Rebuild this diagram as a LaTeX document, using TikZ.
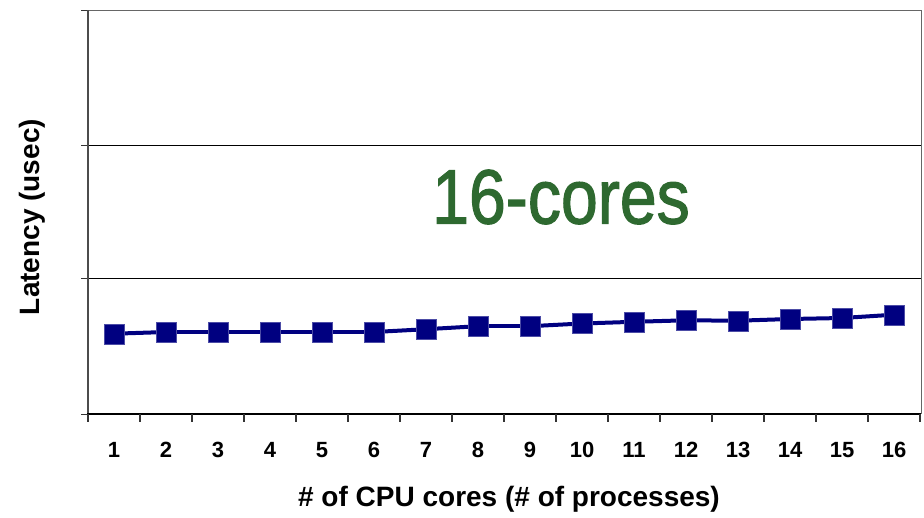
\documentclass[tikz,border=0pt]{standalone}
\usepackage{fontspec}
\setmainfont{Liberation Sans}
\newfontfamily\coresfont[FakeBold=1.6]{Liberation Sans}
\usepackage{xcolor}
\usetikzlibrary{positioning}

\definecolor{seriesblue}{HTML}{000080}
\definecolor{labelgreen}{HTML}{2E6930}

\begin{document}
\begin{tikzpicture}[
    x=1pt, y=-1pt,
    marker/.style={rectangle, fill=seriesblue, draw=seriesblue!70, line width=0.4pt, minimum size=20pt, inner sep=0pt},
    series/.style={seriesblue, line width=4pt},
    ticklabel/.style={font=\fontsize{22}{22}\selectfont\bfseries, anchor=center},
    axistitle/.style={font=\fontsize{28}{28}\selectfont\bfseries},
    grid/.style={black, line width=1pt}
]
    \useasboundingbox (0,0) rectangle (924,517);
    % plot area
    \draw[grid, gray!80!black] (88,10) -- (921,10) -- (921,414);
    \draw[grid] (88,145) -- (921,145);
    \draw[grid] (88,278) -- (921,278);
    \foreach \y in {10,145,278,414}
        \draw[line width=1pt, black!80] (81,\y) -- (88,\y);
    \draw[line width=2pt, black!70] (88,10) -- (88,414);
    \draw[line width=2pt, black] (87,414) -- (921,414);
    \foreach \i in {0,...,16}
        \draw[line width=1.2pt, black!80] (88+52*\i,414) -- (88+52*\i,422);

    % tick labels
    \foreach \i in {1,...,16}
        \node[ticklabel] (t\i) at (88+52*\i-26,450) {\i};

    % data
    \foreach \i/\v in {1/333.7,2/332,3/332,4/332,5/332,6/332,7/329.2,8/326.2,
                       9/326.2,10/323.5,11/321.8,12/320.3,13/320.7,14/319,15/318,16/314.7}
        \coordinate (c\i) at (88+52*\i-26,\v);
    \foreach \i [evaluate=\i as \j using int(\i+1)] in {1,...,15}
        \draw[series] (c\i) -- (c\j);
    \foreach \i in {1,...,16}
        \node[marker] (p\i) at (c\i) {};

    % titles
    \node[axistitle] (xtitle) at (509,499) {\# of CPU cores (\# of processes)};
    \node[axistitle, rotate=90] (ytitle) at (32,217) {Latency (usec)};
    \node[font=\coresfont\fontsize{77}{77}\selectfont, text=labelgreen, xscale=0.86] (cores) at (561,197) {16-cores};
\end{tikzpicture}
\end{document}
